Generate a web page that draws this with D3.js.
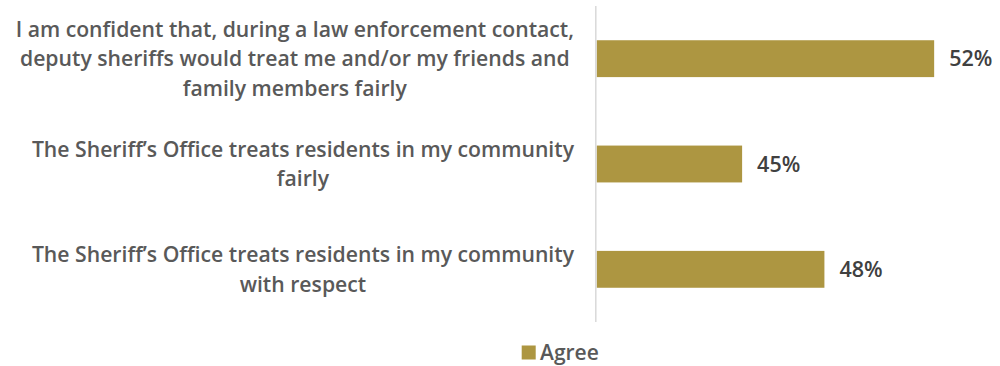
<!DOCTYPE html>
<html>
<head>
<meta charset="utf-8">
<script src="https://cdn.jsdelivr.net/npm/d3@7"></script>
<style>
  html, body { margin: 0; padding: 0; background: #fff; }
  svg { display: block; }
  text { font-family: "Open Sans", Lato, sans-serif; }
</style>
</head>
<body>
<svg id="chart" width="1000" height="366"></svg>
<script>
// ---- data ----
const categories = [
  ["I am confident that, during a law enforcement contact,", "deputy sheriffs would treat me and/or my friends and", "family members fairly"],
  ["The Sheriff\u2019s Office treats residents in my community", "fairly"],
  ["The Sheriff\u2019s Office treats residents in my community", "with respect"]
];
const agreeValues = [52, 45, 48];
const valueLabels = ["52%", "45%", "48%"];
const seriesName = "Agree";

// ---- layout ----
const svg = d3.select("#chart");
const barColor = "#ad9641";
const textColor = "#595959";

const x = d3.scaleLinear().domain([39.7, 54.4]).range([596.7, 1000]);
const y = d3.scaleBand().domain(d3.range(categories.length)).range([6, 322]).paddingInner(0.65).paddingOuter(0.325);

// bars
svg.selectAll("rect.bar").data(agreeValues).enter().append("rect")
  .attr("class", "bar")
  .attr("x", x.range()[0])
  .attr("y", (d, i) => y(i))
  .attr("width", d => x(d) - x.range()[0])
  .attr("height", y.bandwidth())
  .attr("fill", barColor);

// axis line
svg.append("line")
  .attr("x1", 595.8).attr("x2", 595.8)
  .attr("y1", 6).attr("y2", 322)
  .attr("stroke", "#d9d9d9").attr("stroke-width", 1.5);

// value labels
svg.selectAll("text.val").data(agreeValues).enter().append("text")
  .attr("class", "val")
  .attr("x", d => x(d) + 15)
  .attr("y", (d, i) => y(i) + y.bandwidth() / 2)
  .attr("dy", "0.36em")
  .attr("fill", "#404040")
  .attr("font-size", 21.5)
  .attr("font-weight", 600)
  .text((d, i) => valueLabels[i]);

// category labels
const lineH = 29.5;
const rightEdge = 574;
categories.forEach((lines, i) => {
  const g = svg.append("g");
  const cy = y(i) + y.bandwidth() / 2;
  const n = lines.length;
  const texts = lines.map((ln, j) => g.append("text")
    .attr("y", cy + (j - (n - 1) / 2) * lineH)
    .attr("dy", "0.36em")
    .attr("text-anchor", "middle")
    .attr("fill", textColor)
    .attr("font-size", 21.2)
    .attr("font-weight", 600)
    .text(ln));
  const maxW = d3.max(texts, t => t.node().getComputedTextLength());
  const cx = rightEdge - maxW / 2;
  texts.forEach(t => t.attr("x", cx));
});

// legend
const lg = svg.append("g");
lg.append("rect").attr("x", 521.7).attr("y", 345.5).attr("width", 14).attr("height", 14).attr("fill", barColor);
lg.append("text").attr("x", 540).attr("y", 352.5).attr("dy", "0.36em")
  .attr("fill", textColor).attr("font-size", 21).attr("font-weight", 600).text(seriesName);
</script>
</body>
</html>
